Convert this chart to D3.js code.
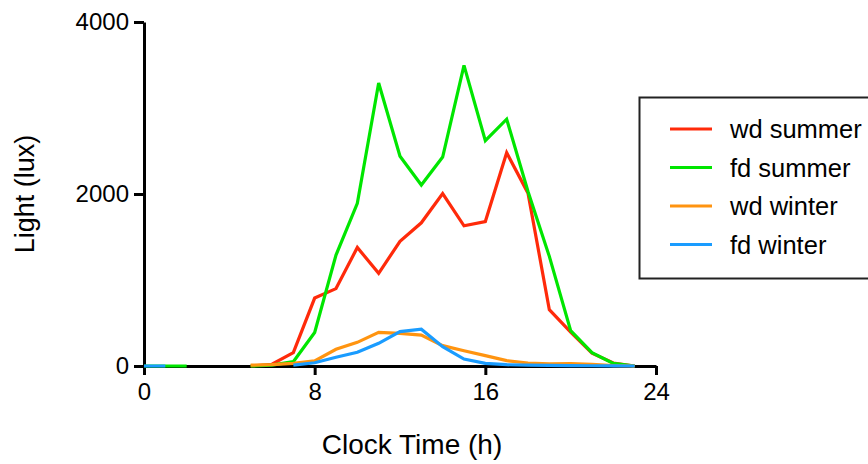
<!DOCTYPE html>
<html>
<head>
<meta charset="utf-8">
<script src="https://cdn.jsdelivr.net/npm/d3@7"></script>
<style>
  body { margin: 0; background: #fff; }
  text { font-family: "Liberation Sans", Arial, sans-serif; fill: #000; }
</style>
</head>
<body>
<div id="chart"></div>
<script>
// Hourly light exposure (lux), null = no recorded value
const hours = d3.range(0, 24);
const wdSummer = [null, null, null, null, null, 0, 20, 155, 790, 900, 1378, 1078, 1450, 1665, 2005, 1630, 1680, 2480, 2010, 655, 395, 148, 35, 0];
const fdSummer = [0, 0, 0, null, null, 0, 10, 50, 390, 1290, 1892, 3290, 2440, 2105, 2430, 3495, 2620, 2870, 2030, 1275, 410, 155, 30, 0];
const wdWinter = [null, null, null, null, null, 10, 15, 30, 60, 194, 275, 392, 380, 360, 237, 178, 120, 62, 35, 25, 28, 20, 5, 0];
const fdWinter = [0, 0, null, null, null, null, null, 10, 38, 101, 160, 264, 400, 427, 225, 81, 31, 15, 10, 8, 5, 3, 2, 0];

const seriesNames = ["wd summer", "fd summer", "wd winter", "fd winter"];
const seriesValues = [wdSummer, fdSummer, wdWinter, fdWinter];
const seriesColors = ["#ff2a0a", "#00e600", "#ff9410", "#1a9cff"];

const xTicks = [0, 8, 16, 24];
const yTicks = [0, 2000, 4000];

const W = 868, H = 464;
const svg = d3.select("#chart").append("svg")
    .attr("width", W)
    .attr("height", H);

const x = d3.scaleLinear().domain([0, 24]).range([144, 656]);
const y = d3.scaleLinear().domain([0, 4000]).range([366, 22]);

// Axes
const yAxis = svg.append("g")
    .attr("transform", "translate(144,0)")
    .call(d3.axisLeft(y).tickValues(yTicks).tickFormat(d3.format("d"))
        .tickSize(10).tickSizeOuter(0).tickPadding(5));

const xAxis = svg.append("g")
    .attr("transform", "translate(0,366)")
    .call(d3.axisBottom(x).tickValues(xTicks).tickFormat(d3.format("d"))
        .tickSize(9).tickSizeOuter(0).tickPadding(8));

[xAxis, yAxis].forEach(g => {
    g.select(".domain").attr("stroke", "#000").attr("stroke-width", 3);
    g.selectAll(".tick line").attr("stroke", "#000").attr("stroke-width", 3);
    g.selectAll(".tick text")
        .style("font-family", '"Liberation Sans", Arial, sans-serif')
        .style("font-size", "24px")
        .attr("fill", "#000");
});

// Lines
const line = d3.line()
    .defined(d => d[1] !== null)
    .x(d => x(d[0]))
    .y(d => y(d[1]));

seriesValues.forEach((vals, i) => {
    svg.append("path")
        .datum(hours.map((h, j) => [h, vals[j]]))
        .attr("fill", "none")
        .attr("stroke", seriesColors[i])
        .attr("stroke-width", 3.2)
        .attr("stroke-linejoin", "miter")
        .attr("d", line);
});

// Axis titles
svg.append("text")
    .attr("x", 412)
    .attr("y", 454)
    .attr("text-anchor", "middle")
    .style("font-size", "28px")
    .text("Clock Time (h)");

svg.append("text")
    .attr("transform", "translate(34,194) rotate(-90)")
    .attr("text-anchor", "middle")
    .style("font-size", "27px")
    .text("Light (lux)");

// Legend
const legend = svg.append("g");
legend.append("rect")
    .attr("x", 639.5)
    .attr("y", 97.5)
    .attr("width", 260)
    .attr("height", 181)
    .attr("fill", "#fff")
    .attr("stroke", "#222")
    .attr("stroke-width", 2);

seriesNames.forEach((name, i) => {
    const ly = 129 + i * 38.5;
    legend.append("line")
        .attr("x1", 670).attr("x2", 712)
        .attr("y1", ly).attr("y2", ly)
        .attr("stroke", seriesColors[i])
        .attr("stroke-width", 3.2);
    legend.append("text")
        .attr("x", 730)
        .attr("y", ly + 9)
        .style("font-size", "25.5px")
        .text(name);
});
</script>
</body>
</html>
